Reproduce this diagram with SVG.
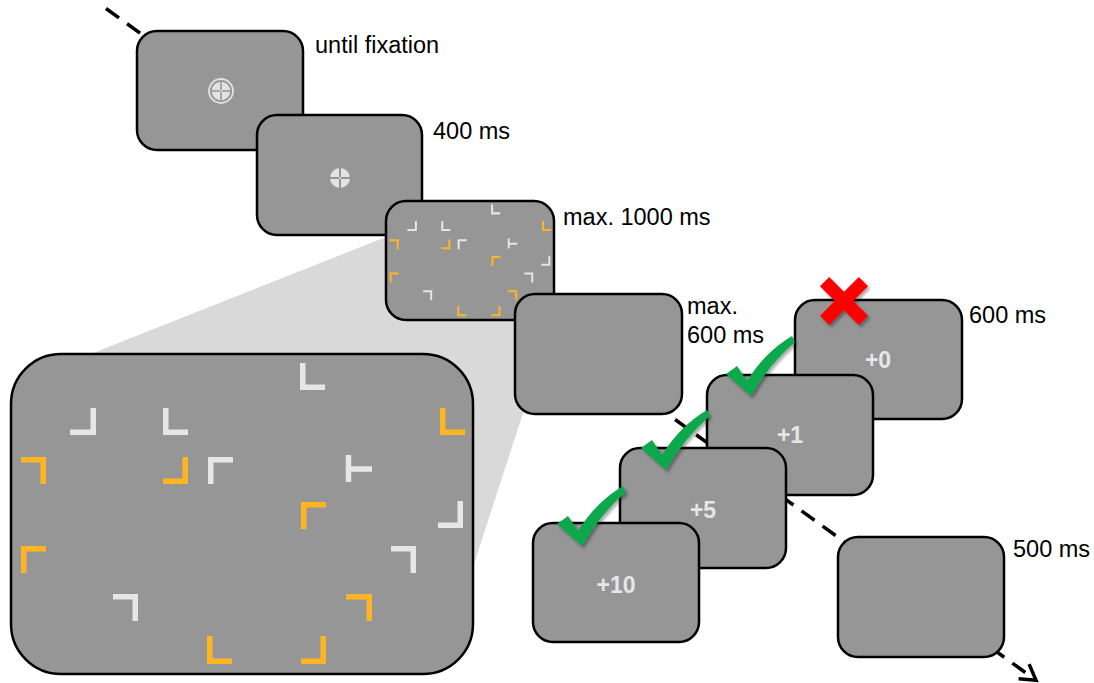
<svg xmlns="http://www.w3.org/2000/svg" xmlns:xlink="http://www.w3.org/1999/xlink" width="1094" height="683" viewBox="0 0 1094 683">
  <defs>
    <style>
      .screen { fill: #969696; stroke: #000; stroke-width: 2.5; }
      .time { font-family: "Liberation Sans", Arial, sans-serif; font-size: 23.5px; fill: #000; }
      .reward { font-family: "Liberation Sans", Arial, sans-serif; font-size: 23px; font-weight: bold; fill: #e6e6e6; text-anchor: middle; }
      .mk { fill: none; stroke-width: 5.5; stroke-linejoin: miter; stroke-linecap: butt; }
      .wh { stroke: #e6e6e6; }
      .or { stroke: #ffb522; }
      .flow { fill: none; stroke: #000; stroke-width: 3.5; stroke-dasharray: 16 10; }
      .check { fill: #0aa84c; }
    </style>
    <filter id="shadow" x="-30%" y="-30%" width="160%" height="160%">
      <feDropShadow dx="2" dy="2.5" stdDeviation="1.5" flood-color="#000" flood-opacity="0.35"/>
    </filter>
    <marker id="arrowOpen" markerUnits="userSpaceOnUse" markerWidth="30" markerHeight="30" refX="0" refY="0" viewBox="-20 -15 30 30" orient="auto" overflow="visible">
      <path d="M -15,-9 L 0,0 L -15,9" fill="none" stroke="#000" stroke-width="3.5"/>
    </marker>
    <!-- search array, drawn in the coordinates of the enlarged screen -->
    <g id="array">
      <path class="mk wh" d="M 70,432.25 H 93.25 V 408"/>
      <path class="mk wh" d="M 165.75,408 V 432.25 H 188"/>
      <path class="mk or" d="M 21,459.75 H 43.25 V 484"/>
      <path class="mk or" d="M 163,481.25 H 185.25 V 457"/>
      <path class="mk wh" d="M 210.75,484 V 459.75 H 233"/>
      <path class="mk wh" d="M 302.75,363 V 387.25 H 325"/>
      <path class="mk or" d="M 442.75,408 V 432.25 H 465"/>
      <path class="mk wh" d="M 348.5,455 V 482 M 348.5,469 H 372"/>
      <path class="mk or" d="M 303.75,529 V 504.75 H 326"/>
      <path class="mk wh" d="M 438,525.25 H 460.25 V 501"/>
      <path class="mk or" d="M 23.75,573 V 548.75 H 46"/>
      <path class="mk wh" d="M 113,596.75 H 135.25 V 621"/>
      <path class="mk or" d="M 209.75,636 V 661.25 H 232"/>
      <path class="mk wh" d="M 391,548.75 H 413.25 V 573"/>
      <path class="mk or" d="M 346,596.75 H 369.25 V 621"/>
      <path class="mk or" d="M 301,661.25 H 323.25 V 636"/>
    </g>
    <path id="tick" class="check" d="M -21,-19 L -10,-27 L 0,-12 Q 18,-41 45,-57 L 48,-51 Q 23,-30 4,3 Z"/>
  </defs>

  <!-- trial sequence arrow (runs behind the screens) -->
  <g id="connectors">
    <line class="flow" x1="106" y1="8.5" x2="1036" y2="680.2" marker-end="url(#arrowOpen)"/>
  </g>

  <!-- zoom projection from the search screen -->
  <polygon id="zoom-cone" points="386,237 554,318 472,570 88,355" fill="#d9d9d9"/>

  <g id="fixation-screen">
    <rect class="screen" x="137" y="31" width="166" height="119" rx="20"/>
    <circle cx="221" cy="91" r="12" fill="none" stroke="#e2e2e2" stroke-width="1.8"/>
    <circle cx="221" cy="91" r="9.3" fill="#e2e2e2"/>
    <path d="M 211.5,91 H 230.5 M 221,81.5 V 100.5" stroke="#969696" stroke-width="1.5"/>
    <circle cx="221" cy="91" r="1.1" fill="#e2e2e2"/>
    <text class="time" x="315" y="53">until fixation</text>
  </g>

  <g id="hold-screen">
    <rect class="screen" x="257" y="115" width="165" height="120" rx="20"/>
    <circle cx="340" cy="178" r="10" fill="#e3e3e3"/>
    <path d="M 330,178 H 350 M 340,168 V 188" stroke="#969696" stroke-width="2"/>
    <circle cx="340" cy="178" r="1.1" fill="#e3e3e3"/>
    <text class="time" x="433" y="139">400 ms</text>
  </g>

  <g id="search-screen">
    <rect class="screen" x="386" y="201" width="168" height="119" rx="20"/>
    <use xlink:href="#array" transform="translate(386,201) scale(0.3636,0.3719) translate(-11,-354)"/>
    <text class="time" x="563" y="225">max. 1000 ms</text>
  </g>

  <g id="search-enlarged">
    <rect class="screen" x="11" y="354" width="462" height="320" rx="50"/>
    <use xlink:href="#array"/>
  </g>

  <g id="response-screen">
    <rect class="screen" x="515" y="294" width="167" height="120" rx="20"/>
    <text class="time" x="687" y="314">max.</text>
    <text class="time" x="687" y="343">600 ms</text>
  </g>

  <g id="feedback-0">
    <rect class="screen" x="795" y="300" width="167" height="119" rx="20"/>
    <text class="reward" x="878" y="368">+0</text>
    <text class="time" x="969" y="323">600 ms</text>
  </g>

  <g id="feedback-1">
    <rect class="screen" x="707" y="375" width="166" height="120" rx="20"/>
    <text class="reward" x="790" y="443">+1</text>
  </g>

  <g id="feedback-5">
    <rect class="screen" x="620" y="448" width="166" height="120" rx="20"/>
    <text class="reward" x="703" y="518">+5</text>
  </g>

  <g id="feedback-10">
    <rect class="screen" x="533" y="523" width="166" height="119" rx="20"/>
    <text class="reward" x="616" y="593">+10</text>
  </g>

  <g id="iti-screen">
    <rect class="screen" x="838" y="537" width="166" height="120" rx="20"/>
    <text class="time" x="1013" y="557">500 ms</text>
  </g>

  <!-- outcome marks -->
  <g id="marks" filter="url(#shadow)">
    <use xlink:href="#tick" transform="translate(747,393)"/>
    <use xlink:href="#tick" transform="translate(662,467)"/>
    <use xlink:href="#tick" transform="translate(578,543)"/>
    <g transform="translate(844,301)" fill="#ff0000">
      <rect x="-27.5" y="-6.5" width="55" height="13" transform="rotate(45)"/>
      <rect x="-27.5" y="-6.5" width="55" height="13" transform="rotate(-45)"/>
    </g>
  </g>
</svg>
